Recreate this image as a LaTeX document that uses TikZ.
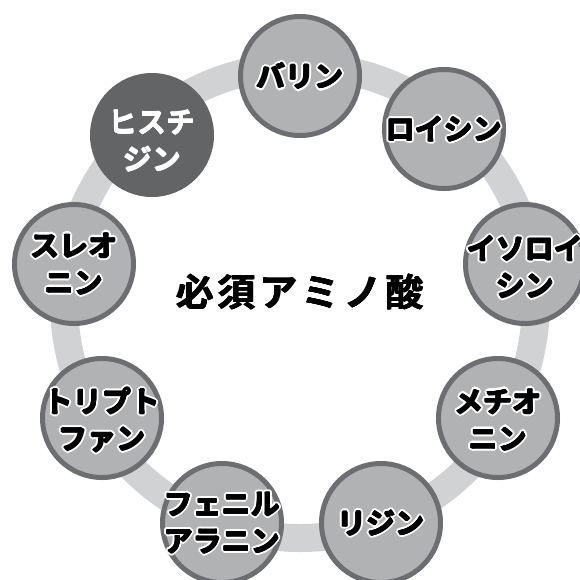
\documentclass[tikz,border=0pt]{standalone}
\usepackage{fontspec}
\newfontfamily\jpb{Noto Sans CJK JP Bold}
\definecolor{ringgrey}{HTML}{D1D2D4}
\definecolor{cfill}{HTML}{B1B2B4}
\definecolor{cborder}{HTML}{6D6E71}
\definecolor{hfill}{HTML}{636466}
\newcommand\halo[1]{\leavevmode\foreach \ang in {0,22.5,...,337.5}{\pgfmathsetmacro\hx{2.6*cos(\ang)}\pgfmathsetmacro\hy{2.6*sin(\ang)}\rlap{\hspace*{\hx pt}\raisebox{\hy pt}{\textcolor{white}{#1}}}}\foreach \ang in {0,45,...,315}{\pgfmathsetmacro\hx{0.55*cos(\ang)}\pgfmathsetmacro\hy{0.55*sin(\ang)}\rlap{\hspace*{\hx pt}\raisebox{\hy pt}{#1}}}#1}
\newcommand\thick[1]{\leavevmode\foreach \ang in {0,90,180,270}{\pgfmathsetmacro\hx{0.35*cos(\ang)}\pgfmathsetmacro\hy{0.35*sin(\ang)}\rlap{\hspace*{\hx pt}\raisebox{\hy pt}{#1}}}#1}
\begin{document}
\begin{tikzpicture}[x=1pt,y=-1pt,
  acid/.style={circle, draw=cborder, line width=5pt, fill=cfill, minimum size=119pt, inner sep=0pt},
  darkacid/.style={circle, draw=hfill, line width=5pt, fill=hfill, minimum size=119pt, inner sep=0pt},
  lbl/.style={align=center, font=\jpb\fontsize{29}{37}\selectfont, inner sep=0pt, text=black},
  wlbl/.style={align=center, font=\jpb\fontsize{29}{37}\selectfont, inner sep=0pt, text=white},
]
\useasboundingbox (0,0) rectangle (580,579);
\fill[white] (0,0) rectangle (580,579);
\draw[ringgrey, line width=28pt] (300,302) circle[radius=236pt];
\node (title) at (300,292) {\jpb\fontsize{38}{38}\selectfont\thick{必\kern4pt 須\kern4pt ア\kern4pt ミ\kern4pt ノ\kern4pt 酸}};
% circles
\node[acid] (val) at (300,76) {};
\node[acid] (leu) at (444,129) {};
\node[acid] (ile) at (525,264) {};
\node[acid] (met) at (498,418) {};
\node[acid] (lys) at (381,523) {};
\node[acid] (phe) at (222,523) {};
\node[acid] (trp) at (102,418) {};
\node[acid] (thr) at (74,264) {};
\node[darkacid] (his) at (152,135) {};
% labels
\node[lbl] (val-t) at (val) {\halo{バリン}};
\node[lbl] (leu-t) at (leu) {\halo{ロイシン}};
\node[lbl] (ile-t) at ([yshift=-3pt]ile.center) {\halo{イソロイ}\\\halo{シン}};
\node[lbl] (met-t) at ([yshift=-2pt]met.center) {\halo{メチオ}\\\halo{ニン}};
\node[lbl] (lys-t) at (lys) {\halo{リジン}};
\node[lbl] (phe-t) at (phe) {\halo{フェニル}\\\halo{アラニン}};
\node[lbl] (trp-t) at ([yshift=-2pt]trp.center) {\halo{トリプト}\\\halo{ファン}};
\node[lbl] (thr-t) at (thr) {\halo{スレオ}\\\halo{ニン}};
\node[wlbl] (his-t) at ([yshift=-6pt]his.center) {\thick{ヒスチ}\\\thick{ジン}};
\end{tikzpicture}
\end{document}
